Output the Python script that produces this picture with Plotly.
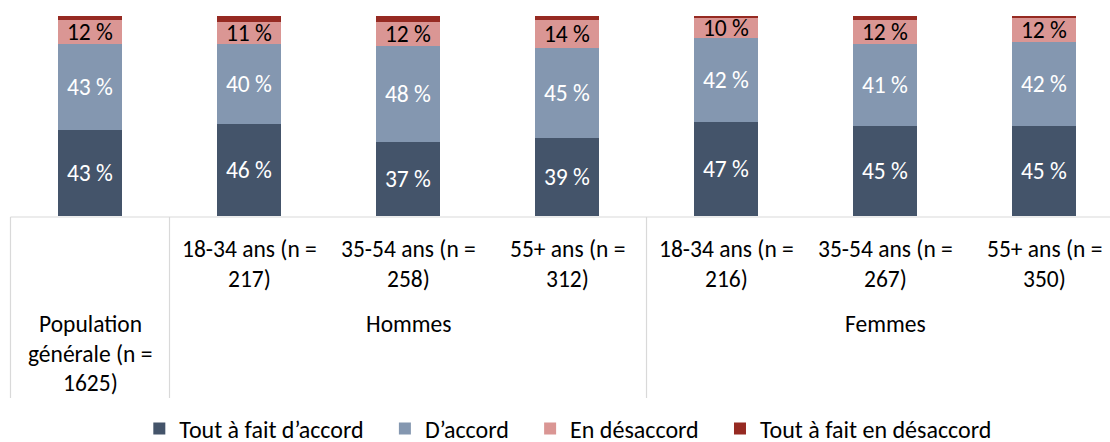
import plotly.graph_objects as go

# ---- data ----
categories = [
    "Population générale (n = 1625)",
    "Hommes 18-34 ans (n = 217)",
    "Hommes 35-54 ans (n = 258)",
    "Hommes 55+ ans (n = 312)",
    "Femmes 18-34 ans (n = 216)",
    "Femmes 35-54 ans (n = 267)",
    "Femmes 55+ ans (n = 350)",
]
category_lines = [
    ["Population", "générale (n =", "1625)"],
    ["18-34 ans (n =", "217)"],
    ["35-54 ans (n =", "258)"],
    ["55+ ans (n =", "312)"],
    ["18-34 ans (n =", "216)"],
    ["35-54 ans (n =", "267)"],
    ["55+ ans (n =", "350)"],
]
group_names = ["Hommes", "Femmes"]
group_members = [[1, 2, 3], [4, 5, 6]]

series_names = ["Tout à fait d’accord", "D’accord", "En désaccord", "Tout à fait en désaccord"]
tout_a_fait_accord = [43, 46, 37, 39, 47, 45, 45]
d_accord = [43, 40, 48, 45, 42, 41, 42]
en_desaccord = [12, 11, 12, 14, 10, 12, 12]
tout_a_fait_desaccord = [2, 3, 3, 2, 1, 2, 1]

colors = ["#44546A", "#8497B0", "#DA9694", "#962A22"]
text_colors = ["white", "white", "black", None]

FONT = "Calibri, Carlito, Lato, sans-serif"
FS = 23.5
LFS = 24
PAD = "\u00a0" * 3  # extra spacing between legend entries

fig = go.Figure()
all_series = [tout_a_fait_accord, d_accord, en_desaccord, tout_a_fait_desaccord]
for k, (name, vals, col, tcol) in enumerate(zip(series_names, all_series, colors, text_colors)):
    fig.add_trace(go.Bar(
        x=categories, y=vals,
        name=name + (PAD if k < len(series_names) - 1 else ""),
        marker=dict(color=col, line=dict(width=0)),
        width=0.4,
        text=[f"{v} %" for v in vals] if tcol else None,
        textposition="inside" if tcol else "none",
        insidetextanchor="middle",
        constraintext="none",
        textfont=dict(family=FONT, size=FS, color=tcol or "white"),
        hoverinfo="x+y+name",
    ))

# ---- category table (Excel-like multi-level axis) ----
line_col = "#D9D9D9"
row1_y = [-0.165, -0.315]
row2_y = [-0.54, -0.6875, -0.835]
for i, lines in enumerate(category_lines):
    ys = row2_y if len(lines) == 3 else row1_y
    for ln, yy in zip(lines, ys):
        fig.add_annotation(x=i, y=yy, xref="x", yref="paper", text=ln, showarrow=False,
                           xanchor="center", yanchor="middle",
                           font=dict(family=FONT, size=FS, color="#000000"))
for g, members in zip(group_names, group_members):
    fig.add_annotation(x=sum(members) / len(members), y=row2_y[0], xref="x", yref="paper",
                       text=g, showarrow=False, xanchor="center", yanchor="middle",
                       font=dict(family=FONT, size=FS, color="#000000"))

n = len(categories)
fig.add_shape(type="line", xref="x", yref="paper", x0=-0.5, x1=n - 0.5, y0=-0.005, y1=-0.005,
              line=dict(color=line_col, width=1.2))
dividers = [-0.5, 0.5] + [m[-1] + 0.5 for m in group_members]
for xv in dividers:
    fig.add_shape(type="line", xref="x", yref="paper", x0=xv, x1=xv, y0=-0.005, y1=-0.91,
                  line=dict(color=line_col, width=1.2))

fig.update_layout(
    width=1110, height=442,
    margin=dict(l=0, r=0, t=16, b=226, autoexpand=False),
    barmode="stack",
    plot_bgcolor="white", paper_bgcolor="white",
    font=dict(family=FONT, size=FS, color="#000000"),
    xaxis=dict(range=[-0.566, 6.415], showticklabels=False, showgrid=False,
               zeroline=False, showline=False, ticks=""),
    yaxis=dict(range=[0, 100], visible=False, showgrid=False, zeroline=False),
    legend=dict(orientation="h", x=0.512, xanchor="center", y=-1.065, yanchor="middle",
                font=dict(family=FONT, size=LFS, color="#000000"),
                traceorder="normal", itemclick=False, itemdoubleclick=False),
    showlegend=True,
)

fig.write_html("out.html", config={"displayModeBar": False},
               post_script="document.body.style.margin='0';document.body.style.overflow='hidden';")
